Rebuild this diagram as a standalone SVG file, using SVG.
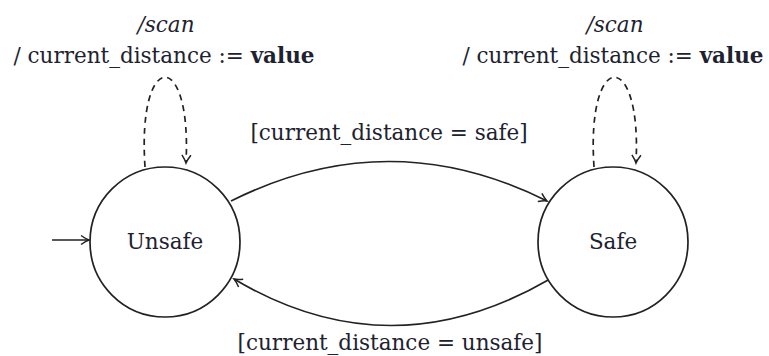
<svg xmlns="http://www.w3.org/2000/svg" width="769" height="356" viewBox="0 0 769 356">
<style>
.st{fill:#fff;stroke:#222;stroke-width:1.7}
.ed{fill:none;stroke:#222;stroke-width:1.7}
.ds{stroke-dasharray:6,5}
text{font-family:"DejaVu Serif","Liberation Serif",serif;font-size:21.5px;fill:#1e2230;text-anchor:middle}
.it{font-style:italic}
.b{font-weight:bold}
</style>
<defs>
<marker id="ar" viewBox="-10 -6 12 12" markerWidth="12" markerHeight="12" refX="0" refY="0" orient="auto" markerUnits="userSpaceOnUse">
<path d="M-8,-4.5 Q-3,-1 0,0 Q-3,1 -8,4.5" fill="none" stroke="#222" stroke-width="1.5"/>
</marker>
</defs>
<rect width="769" height="356" fill="#fff"/>
<g id="connectors">
<path class="ed" d="M52,240 L89,240" marker-end="url(#ar)"/>
<path class="ed" d="M231,201 Q389,122 547,201" marker-end="url(#ar)"/>
<path class="ed" d="M550,279 Q390,372 234,279" marker-end="url(#ar)"/>
<path class="ed ds" d="M145,167 C137,48 192,48 186,163" marker-end="url(#ar)"/>
<path class="ed ds" d="M594,167 C586,48 642,48 636,163" marker-end="url(#ar)"/>
</g>
<g id="unsafe">
<circle class="st" cx="165" cy="242" r="75"/>
<text x="165" y="249">Unsafe</text>
</g>
<g id="safe">
<circle class="st" cx="613" cy="242" r="75"/>
<text x="613" y="249">Safe</text>
</g>
<g id="labels">
<text class="it" x="166" y="32">/scan</text>
<text x="164" y="63">/ current_distance := <tspan class="b">value</tspan></text>
<text class="it" x="615" y="32">/scan</text>
<text x="613" y="63">/ current_distance := <tspan class="b">value</tspan></text>
<text x="389" y="140">[current_distance = safe]</text>
<text x="390" y="350">[current_distance = unsafe]</text>
</g>
</svg>
